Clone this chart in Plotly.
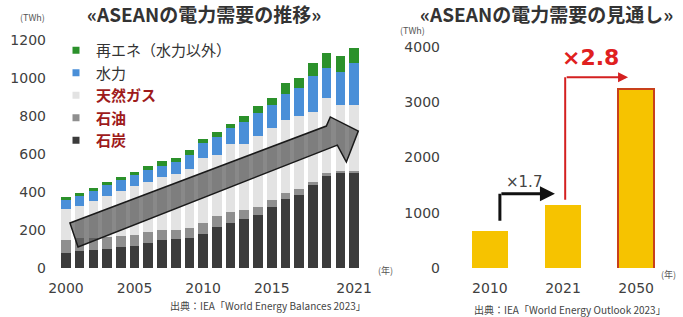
import plotly.graph_objects as go

# ---------------- data ----------------
years = list(range(2000, 2022))
coal = [79, 90, 95, 105, 112, 116, 132, 150, 153, 163, 184, 216, 242, 263, 284, 326, 368, 389, 437, 489, 505, 505]
oil = [73, 68, 66, 63, 60, 62, 58, 55, 52, 52, 58, 62, 53, 47, 40, 32, 28, 27, 17, 12, 10, 10]
gas = [159, 172, 196, 216, 238, 258, 263, 274, 295, 311, 342, 317, 358, 347, 376, 384, 383, 389, 368, 394, 343, 343]
hydro = [48, 50, 53, 53, 58, 58, 68, 63, 63, 74, 75, 95, 84, 116, 120, 121, 142, 147, 189, 158, 174, 221]
other_re = [15, 15, 16, 16, 16, 16, 16, 26, 21, 26, 25, 26, 26, 32, 33, 37, 53, 53, 68, 79, 84, 84]

left_ticks = [2000, 2005, 2010, 2015, 2021]
left_yticks = [0, 200, 400, 600, 800, 1000, 1200]

outlook_years = ["2010", "2021", "2050"]
outlook_values = [680, 1150, 3250]
right_yticks = [0, 1000, 2000, 3000, 4000]

series = [
    ("石炭", coal, "#3b3b3b", True),
    ("石油", oil, "#8f8f8f", True),
    ("天然ガス", gas, "#e3e3e3", True),
    ("水力", hydro, "#4a8fd8", False),
    ("再エネ（水力以外）", other_re, "#2b912b", False),
]

W, H = 683, 317
JP = "Noto Sans CJK JP"
NUM = "DejaVu Sans"
TICK = dict(family=NUM, size=14, color="#404040")

fig = go.Figure()

for name, vals, col, red in series:
    fig.add_trace(go.Bar(x=years, y=vals, name=name, marker=dict(color=col, line=dict(width=0)),
                         width=0.7, showlegend=False, legendgroup=name, xaxis="x", yaxis="y"))

# legend entries (small square markers)
for name, vals, col, red in reversed(series):
    label = f"<b><span style='color:#9e1b1b'>{name}</span></b>" if red else name
    fig.add_trace(go.Scatter(x=[None], y=[None], mode="markers", name=label, legendgroup=name,
                             marker=dict(symbol="square", size=7, color=col), xaxis="x", yaxis="y"))

fig.add_trace(go.Bar(x=outlook_years, y=outlook_values, width=0.5, showlegend=False,
                     marker=dict(color="#f6c300",
                                 line=dict(color=["#f6c300", "#f6c300", "#c8401a"], width=[0, 0, 2])),
                     xaxis="x2", yaxis="y2"))

ydom = [(H - 268) / H, (H - 30.5) / H]

fig.update_layout(
    width=W, height=H,
    margin=dict(l=0, r=0, t=0, b=0),
    paper_bgcolor="white", plot_bgcolor="white",
    barmode="stack", bargap=0,
    font=dict(family=NUM, size=14, color="#333333"),
    showlegend=True,
    legend=dict(x=56 / W, y=(H - 34) / H, xanchor="left", yanchor="top",
                font=dict(family=JP, size=15, color="#333333"),
                bgcolor="rgba(0,0,0,0)", tracegroupgap=0, itemwidth=30),
    xaxis=dict(domain=[58 / W, 362 / W], range=[1999.42, 2021.58], tickvals=left_ticks,
               showgrid=False, zeroline=False, showline=False, ticks="", automargin=False,
               ticklabelstandoff=10, tickfont=TICK),
    yaxis=dict(domain=ydom, range=[0, 1250], tickvals=left_yticks, showgrid=False, zeroline=False,
               showline=False, ticks="", ticklabelstandoff=11, automargin=False, tickfont=TICK),
    xaxis2=dict(domain=[446 / W, 680 / W], range=[-0.6, 2.6], type="category",
                showgrid=False, zeroline=False, showline=False, ticks="", automargin=False,
                ticklabelstandoff=10, tickfont=TICK),
    yaxis2=dict(domain=ydom, range=[0, 4300], tickvals=right_yticks, anchor="x2",
                showgrid=False, zeroline=False, showline=False, ticks="", ticklabelstandoff=5,
                automargin=False, tickfont=TICK),
)

# big grey trend arrow (decoration)
arrow_path = ("M 2000.29 237 L 2018.98 747 L 2019.27 795 L 2021.31 721 "
              "L 2020.44 558 L 2019.78 647 L 2000.88 111 Z")
shapes = [
    dict(type="path", xref="x", yref="y", path=arrow_path, layer="above",
         fillcolor="rgba(65,65,65,0.62)", line=dict(color="#1a1a1a", width=1.5)),
    # black x1.7 arrow vertical part
    dict(type="line", xref="x2", yref="y2", x0=0.137, x1=0.137, y0=855, y1=1345,
         line=dict(color="#111111", width=3)),
    # red x2.8 arrow vertical part
    dict(type="line", xref="x2", yref="y2", x0=1.03, x1=1.03, y0=1236, y1=3455,
         line=dict(color="#d42020", width=2)),
]
fig.update_layout(shapes=shapes)

ann = []
ann.append(dict(x=0.89, y=1345, ax=0.137, ay=1345, xref="x2", yref="y2", axref="x2", ayref="y2",
                text="", showarrow=True, arrowhead=2, arrowsize=1, arrowwidth=3, arrowcolor="#111111"))
ann.append(dict(x=1.89, y=3455, ax=1.03, ay=3455, xref="x2", yref="y2", axref="x2", ayref="y2",
                text="", showarrow=True, arrowhead=2, arrowsize=1, arrowwidth=2, arrowcolor="#d42020"))
ann.append(dict(x=0.47, y=1563, xref="x2", yref="y2", text="×1.7", showarrow=False,
                font=dict(family=NUM, size=15, color="#444444")))
ann.append(dict(x=1.38, y=3818, xref="x2", yref="y2", text="<b>×2.8</b>", showarrow=False,
                font=dict(family=NUM, size=22, color="#e02020")))

def pa(px, py, text, size, color="#333333", family=JP, xanchor="center"):
    return dict(x=px / W, y=(H - py) / H, xref="paper", yref="paper", text=text, showarrow=False,
                xanchor=xanchor, yanchor="middle", font=dict(family=family, size=size, color=color))

ann.append(pa(204, 14, "<b>«ASEANの電力需要の推移»</b>", 19))
ann.append(pa(546, 14, "<b>«ASEANの電力需要の見通し»</b>", 19))
ann.append(pa(32, 17, "(TWh)", 9, "#555555"))
ann.append(pa(412, 31, "(TWh)", 9, "#555555"))
ann.append(pa(385, 270, "(年)", 9, "#555555"))
ann.append(pa(668, 274, "(年)", 9, "#555555"))
ann.append(pa(268, 305, "出典：IEA「World Energy Balances 2023」", 10, "#444444"))
ann.append(pa(570, 309, "出典：IEA「World Energy Outlook 2023」", 10, "#444444"))
fig.update_layout(annotations=ann)

fig.write_html("out.html", config={"displayModeBar": False},
               post_script="document.body.style.margin='0';document.body.style.overflow='hidden';")
